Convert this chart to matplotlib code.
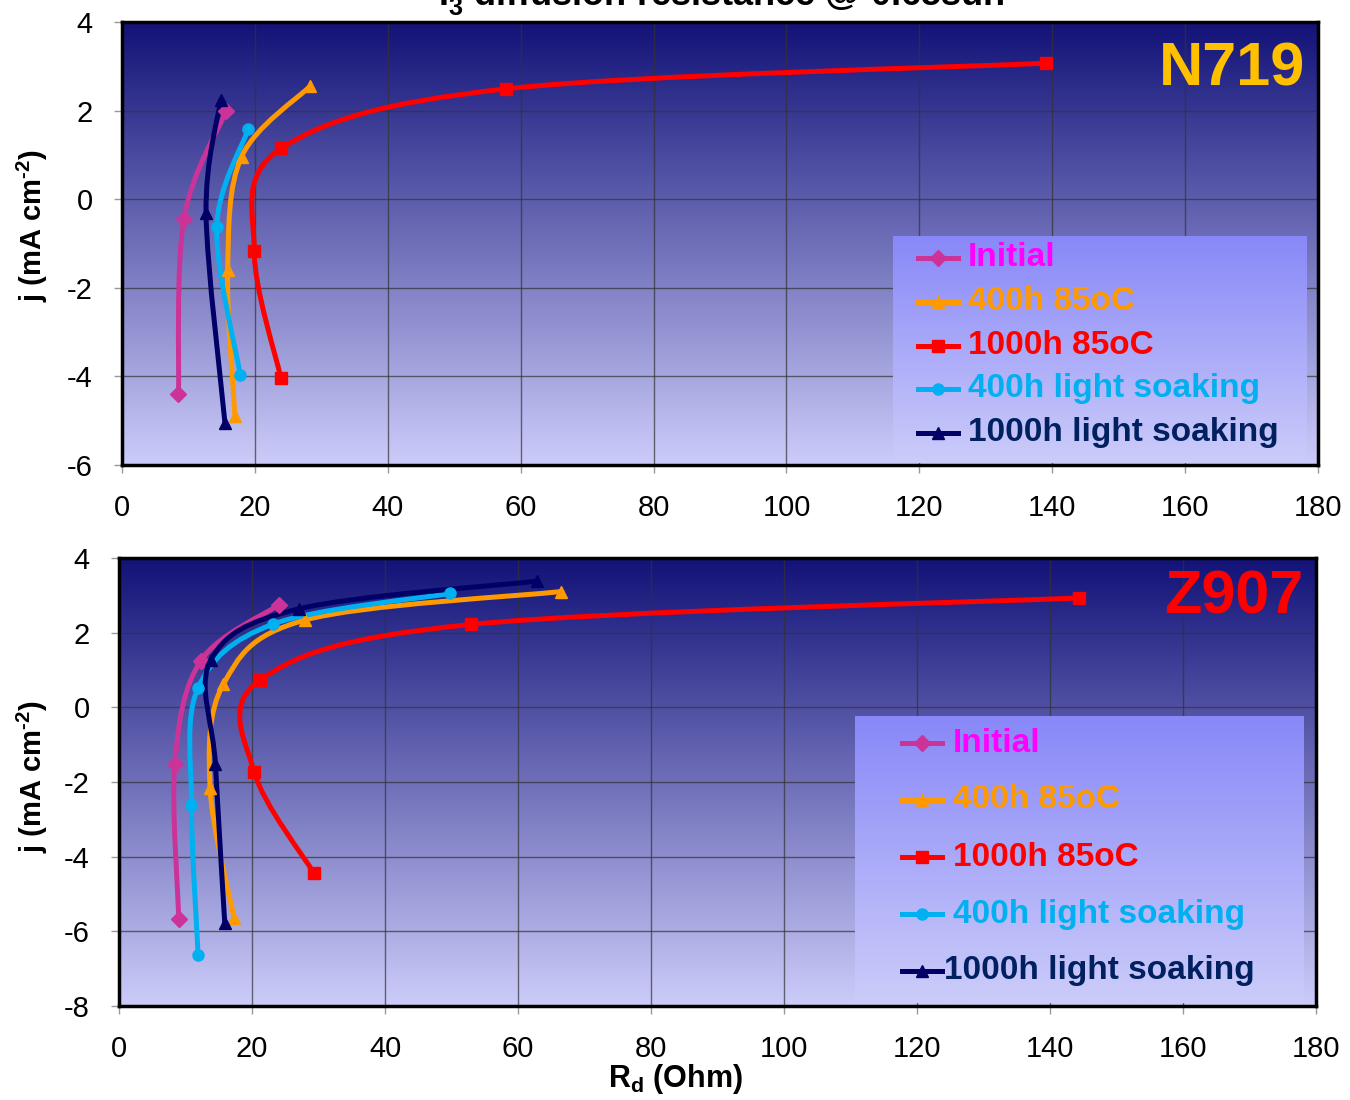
import numpy as np
import matplotlib
matplotlib.use("Agg")
import matplotlib.pyplot as plt
from matplotlib.path import Path
from matplotlib.patches import PathPatch

plt.rcParams['font.family'] = ['Liberation Sans', 'DejaVu Sans']
plt.rcParams['axes.unicode_minus'] = False
plt.rcParams['mathtext.fontset'] = 'custom'
plt.rcParams['mathtext.rm'] = 'Liberation Sans:bold'
plt.rcParams['mathtext.it'] = 'Liberation Sans:bold'
plt.rcParams['mathtext.bf'] = 'Liberation Sans:bold'

# ---- data ----
labels = ["Initial", "400h 85oC", "1000h 85oC", "400h light soaking", "1000h light soaking"]
line_colors = ["#cc3399", "#ff9900", "#ff0000", "#00b0f0", "#000066"]
text_colors = ["#ff00ff", "#ff9900", "#ff0000", "#00b0f0", "#002060"]
markers = ["D", "^", "s", "o", "^"]

# N719 panel
n719_init_x = [8.5, 9.3, 15.7]
n719_init_y = [-4.4, -0.45, 2.0]
n719_400t_x = [17.0, 15.9, 18.0, 28.3]
n719_400t_y = [-4.9, -1.6, 0.96, 2.55]
n719_1000t_x = [23.9, 19.9, 24.0, 57.8, 139.1]
n719_1000t_y = [-4.03, -1.16, 1.15, 2.49, 3.07]
n719_400l_x = [17.8, 14.25, 19.0]
n719_400l_y = [-3.97, -0.63, 1.58]
n719_1000l_x = [15.5, 12.65, 14.85]
n719_1000l_y = [-5.06, -0.32, 2.24]

# Z907 panel
z907_init_x = [9.0, 8.4, 12.3, 24.0]
z907_init_y = [-5.68, -1.51, 1.25, 2.74]
z907_400t_x = [17.3, 13.7, 15.7, 28.0, 66.4]
z907_400t_y = [-5.65, -2.17, 0.62, 2.34, 3.10]
z907_1000t_x = [29.3, 20.35, 21.2, 53.0, 144.4]
z907_1000t_y = [-4.44, -1.74, 0.73, 2.22, 2.93]
z907_400l_x = [11.9, 10.9, 11.9, 23.2, 49.8]
z907_400l_y = [-6.63, -2.62, 0.52, 2.23, 3.05]
z907_1000l_x = [15.9, 14.5, 13.8, 27.1, 62.8]
z907_1000l_y = [-5.77, -1.53, 1.26, 2.64, 3.38]

n719_series = [(n719_init_x, n719_init_y), (n719_400t_x, n719_400t_y),
               (n719_1000t_x, n719_1000t_y), (n719_400l_x, n719_400l_y),
               (n719_1000l_x, n719_1000l_y)]
z907_series = [(z907_init_x, z907_init_y), (z907_400t_x, z907_400t_y),
               (z907_1000t_x, z907_1000t_y), (z907_400l_x, z907_400l_y),
               (z907_1000l_x, z907_1000l_y)]


def smooth_path(xs, ys, sx, sy):
    # Excel-like smoothed line: cubic bezier through the points (in pixel space)
    pts = np.column_stack([np.array(xs) * sx, np.array(ys) * sy])
    verts = [pts[0]]
    codes = [Path.MOVETO]
    n = len(pts)
    for i in range(n - 1):
        p0 = pts[i - 1] if i > 0 else pts[i]
        p1 = pts[i]
        p2 = pts[i + 1]
        p3 = pts[i + 2] if i + 2 < n else pts[i + 1]
        verts += [p1 + (p2 - p0) / 6, p2 - (p3 - p1) / 6, p2]
        codes += [Path.CURVE4] * 3
    verts = np.array(verts) / [sx, sy]
    return Path(verts, codes)


def gradient(ax, extent, top, bottom, zorder):
    t = np.linspace(0, 1, 256)[:, None, None]
    img = np.array(top)[None, None, :] * (1 - t) + np.array(bottom)[None, None, :] * t
    ax.imshow(img / 255.0, extent=extent, transform=ax.transAxes, aspect='auto',
              zorder=zorder, interpolation='bilinear')


def panel(ax, series, ylim, yticks, name, name_color, name_y, leg_box, leg_y, leg_x, ylab_pos):
    gradient(ax, [0, 1, 0, 1], (18, 18, 120), (204, 204, 250), 0)
    ax.set_xlim(0, 180)
    ax.set_ylim(*ylim)
    ax.set_xticks(range(0, 181, 20))
    ax.set_yticks(yticks)
    ax.grid(True, color="#333333", lw=1.0, alpha=0.7)
    ax.tick_params(labelsize=21, length=6, width=1, color="#999999", pad=15)

    bb = ax.get_position()
    fig_w, fig_h = ax.figure.get_size_inches() * ax.figure.dpi
    sx = bb.width * fig_w / 180
    sy = bb.height * fig_h / (ylim[1] - ylim[0])

    for (xs, ys), c, m in zip(series, line_colors, markers):
        ax.add_patch(PathPatch(smooth_path(xs, ys, sx, sy), fill=False, ec=c, lw=3.6,
                               capstyle='round', joinstyle='round', zorder=3))
        ax.plot(xs, ys, ls='none', marker=m, color=c, ms=8, zorder=4)

    # legend box
    x0, x1, y0, y1 = leg_box
    gradient(ax, [x0, x1, y0, y1], (136, 136, 248), (204, 204, 250), 5)
    ax.set_xlim(0, 180)
    ax.set_ylim(*ylim)
    for i, (lab, c, tc, m) in enumerate(zip(labels, line_colors, text_colors, markers)):
        yy = leg_y[i]
        ax.plot([leg_x[0], leg_x[1]], [yy, yy], color=c, lw=3.6, transform=ax.transAxes,
                zorder=6, clip_on=False)
        ax.plot([(leg_x[0] + leg_x[1]) / 2], [yy], marker=m, color=c, ms=8,
                transform=ax.transAxes, zorder=6, clip_on=False)
        ax.text(leg_x[2] if i < 4 else leg_x[3], yy, lab, color=tc, fontsize=24,
                fontweight='bold', va='center', ha='left', transform=ax.transAxes, zorder=7)

    ax.text(0.989, name_y, name, color=name_color, fontsize=44, fontweight='bold',
            ha='right', va='center', transform=ax.transAxes, zorder=7)
    for s in ax.spines.values():
        s.set_linewidth(2.5)
        s.set_color("black")
        s.set_zorder(8)
    ax.set_ylabel("j (mA cm$^{\\text{-2}}$)", fontsize=21, fontweight='bold')
    ax.yaxis.set_label_coords(*ylab_pos)


fig = plt.figure(figsize=(13.5, 11), dpi=100)
ax1 = fig.add_axes([122 / 1350, 1 - 465 / 1100, 1196 / 1350, 443 / 1100])
ax2 = fig.add_axes([119 / 1350, 1 - 1006 / 1100, 1197 / 1350, 448 / 1100])

top_leg_y = [(465 - y) / 443 for y in [258, 302, 346, 389, 433]]
bot_leg_y = [(1006 - y) / 448 for y in [743, 800, 857, 914, 971]]

panel(ax1, n719_series, (-6, 4), range(-6, 5, 2), "N719", "#ffc000", (465 - 70) / 443,
      ((893 - 122) / 1196, (1307 - 122) / 1196, 0.005, (465 - 236) / 443), top_leg_y,
      [(918 - 122) / 1196, (958 - 122) / 1196, (968 - 122) / 1196, (968 - 122) / 1196],
      ((50 - 122) / 1196, (465 - 226) / 443))
panel(ax2, z907_series, (-8, 4), range(-8, 5, 2), "Z907", "#ff0000", (1006 - 598) / 448,
      ((855 - 119) / 1197, (1304 - 119) / 1197, 0.007, (1006 - 716) / 448), bot_leg_y,
      [(902 - 119) / 1197, (942 - 119) / 1197, (953 - 119) / 1197, (944 - 119) / 1197],
      ((50 - 119) / 1197, (1006 - 777) / 448))

fig.text(675 / 1350, 1 - 1087 / 1100, "R$_{\\mathrm{d}}$ (Ohm)", fontsize=22,
         fontweight='bold', ha='center', va='baseline')

fig.text(0.534, 1 - 5 / 1100, "I$_{\\mathrm{3}}^{\\text{-}}$ diffusion resistance @ 0.65sun",
         fontsize=26, fontweight='bold', ha='center', va='baseline')

fig.savefig("out.png", dpi=100)
